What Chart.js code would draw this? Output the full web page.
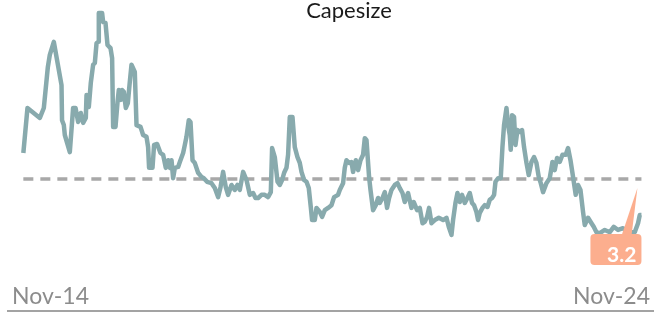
<!DOCTYPE html>
<html>
<head>
<meta charset="utf-8">
<title>Capesize</title>
<script src="https://cdn.jsdelivr.net/npm/chart.js@4.4.1/dist/chart.umd.min.js"></script>
<style>
  html, body { margin: 0; padding: 0; background: #fff; }
  #wrap { width: 660px; height: 313px; position: relative; }
</style>
</head>
<body>
<div id="wrap"><canvas id="capesize"></canvas></div>
<script>
// months since Nov-14
const months = [
  0.1, 0.9, 3.3, 4.07, 4.85, 5.23, 6.01, 7.5, 7.6, 7.95, 8.14, 9.11, 9.75, 10.22, 10.72, 11.24, 11.69, 12.21, 12.35, 12.79,
  13.18, 13.63, 13.96, 14.29, 14.6, 14.73, 15.37, 15.57, 16.03, 16.42, 17.0, 17.31, 17.51, 17.97, 18.36, 18.61, 19.0, 19.25, 19.58, 19.97,
  20.36, 20.74, 21.07, 21.71, 22.04, 22.82, 23.32, 23.98, 24.29, 24.48, 25.14, 25.45, 26.04, 26.69, 27.2, 27.72, 28.17, 28.5, 28.83, 29.14,
  29.47, 30.11, 30.44, 31.08, 31.41, 31.73, 32.18, 32.51, 32.9, 33.34, 33.98, 34.64, 35.09, 35.73, 36.58, 37.22, 37.86, 38.33, 38.83, 39.35,
  39.8, 40.46, 41.1, 41.62, 42.07, 42.71, 43.37, 44.01, 44.65, 45.11, 45.62, 46.27, 46.91, 47.55, 48.08, 48.33, 48.85, 49.38, 49.82, 50.27,
  50.66, 51.12, 51.43, 51.76, 52.28, 52.73, 53.25, 53.7, 54.03, 54.53, 55.0, 55.44, 55.83, 56.08, 56.61, 56.94, 57.58, 58.02, 58.55, 59.19,
  59.84, 60.35, 61.12, 61.45, 62.09, 62.42, 62.75, 63.26, 63.72, 64.03, 64.56, 65.0, 65.47, 65.97, 66.3, 66.63, 67.13, 67.41, 67.91, 68.43,
  68.88, 69.21, 69.73, 70.18, 70.62, 71.01, 71.48, 72.12, 72.64, 73.09, 73.61, 74.05, 74.69, 75.35, 75.8, 76.44, 76.96, 77.49, 77.93, 78.38,
  78.76, 79.23, 79.87, 80.65, 81.48, 82.14, 82.58, 83.11, 83.42, 83.88, 84.27, 84.72, 85.16, 85.69, 86.21, 86.66, 87.1, 87.49, 87.95, 88.27,
  88.6, 89.12, 89.56, 90.09, 90.53, 90.98, 91.37, 91.64, 92.14, 92.66, 92.99, 93.3, 93.77, 94.08, 94.41, 94.6, 94.86, 95.24, 95.52, 95.9,
  96.35, 96.79, 97.18, 97.65, 98.09, 98.61, 99.12, 99.58, 100.03, 100.42, 100.87, 101.52, 102.16, 102.69, 103.13, 103.58, 104.1, 104.63, 105.27, 105.71,
  106.18, 106.68, 107.2, 107.65, 108.12, 108.62, 108.95, 109.59, 110.25, 110.69, 111.22, 111.86, 112.83, 113.8, 114.57, 115.41, 116.37, 117.34, 118.64, 119.28,
  119.61, 119.94,
];

const values = [
  4.60, 5.60, 5.38, 5.60, 6.51, 6.78, 7.07, 6.11, 5.33, 5.22, 5.00, 4.62, 5.60, 5.60, 5.29, 5.49, 5.27, 5.38, 5.89, 5.62,
  6.16, 6.56, 6.60, 7.04, 7.07, 7.71, 7.71, 7.51, 7.49, 7.00, 6.93, 6.71, 5.18, 5.18, 5.73, 6.00, 5.78, 6.00, 5.96, 5.60,
  5.71, 6.18, 6.56, 6.40, 5.22, 5.18, 5.00, 4.96, 4.73, 4.27, 4.27, 4.78, 4.80, 4.60, 4.56, 4.27, 4.44, 4.27, 4.44, 4.04,
  4.27, 4.29, 4.40, 4.60, 4.78, 4.96, 5.33, 5.29, 4.44, 4.38, 4.16, 4.07, 4.04, 3.96, 3.93, 3.82, 3.62, 3.84, 4.18, 3.84,
  3.67, 3.89, 3.78, 3.89, 3.78, 4.18, 4.00, 3.67, 3.71, 3.60, 3.60, 3.67, 3.67, 3.62, 3.73, 4.71, 4.51, 3.96, 3.89, 4.00,
  4.16, 4.27, 4.56, 5.40, 5.40, 4.73, 4.51, 4.38, 4.18, 4.00, 3.96, 3.82, 3.40, 3.11, 3.11, 3.38, 3.29, 3.18, 3.33, 3.38,
  3.44, 3.62, 3.67, 3.78, 3.93, 4.27, 4.44, 4.38, 4.40, 4.18, 4.44, 4.22, 4.44, 4.56, 4.93, 4.89, 4.07, 3.78, 3.33, 3.44,
  3.60, 3.49, 3.60, 3.73, 3.38, 3.60, 3.78, 3.89, 3.93, 3.82, 3.71, 3.51, 3.71, 3.38, 3.51, 3.33, 3.38, 3.04, 3.07, 3.18,
  3.38, 3.04, 3.11, 3.16, 3.11, 3.16, 2.96, 2.78, 3.11, 3.49, 3.71, 3.51, 3.67, 3.49, 3.60, 3.71, 3.49, 3.44, 3.29, 3.11,
  3.27, 3.38, 3.44, 3.40, 3.56, 3.60, 3.67, 3.96, 4.04, 4.04, 4.73, 5.22, 5.60, 5.22, 5.00, 4.67, 5.44, 5.40, 4.78, 5.11,
  5.07, 5.11, 4.73, 4.38, 4.11, 4.40, 4.51, 4.38, 4.07, 3.93, 3.73, 3.93, 4.04, 4.40, 4.22, 4.49, 4.40, 4.56, 4.56, 4.71,
  4.44, 4.07, 3.67, 3.89, 3.78, 3.29, 3.00, 3.16, 3.04, 2.96, 2.84, 2.82, 2.89, 2.84, 2.96, 2.89, 2.93, 2.84, 2.84, 3.04,
  3.22, 3.22,
];

const tickLabels = ["Nov-14", "Nov-24"];
const average = 4.02;
const chartTitle = "Capesize";

const points = months.map((m, i) => ({ x: m, y: values[i] }));
const last = points[points.length - 1];

// title, bottom rule and the last-value callout
const extras = {
  id: "extras",
  afterDraw(chart) {
    const ctx = chart.ctx;
    const area = chart.chartArea;
    ctx.save();

    ctx.fillStyle = "#1a1a1a";
    ctx.font = "22px Lato";
    ctx.textAlign = "center";
    ctx.textBaseline = "alphabetic";
    ctx.fillText(chartTitle, (area.left + area.right) / 2 + 18, 17.5);

    ctx.strokeStyle = "#a3a3a3";
    ctx.lineWidth = 2;
    ctx.beginPath();
    ctx.moveTo(area.left - 5, chart.height - 2);
    ctx.lineTo(area.right + 4, chart.height - 2);
    ctx.stroke();

    const x = chart.scales.x.getPixelForValue(last.x);
    const y = chart.scales.y.getPixelForValue(last.y);
    ctx.fillStyle = "#fcae8e";
    ctx.beginPath();
    ctx.moveTo(x - 20, y + 21);
    ctx.lineTo(x - 4, y - 27);
    ctx.lineTo(x - 10, y + 21);
    ctx.closePath();
    ctx.fill();
    ctx.beginPath();
    ctx.roundRect(x - 51, y + 19, 51, 31, 4);
    ctx.fill();

    ctx.fillStyle = "#ffffff";
    ctx.font = "bold 21px Lato";
    ctx.textAlign = "right";
    ctx.fillText(last.y.toFixed(1), x - 5, y + 47);
    ctx.restore();
  },
};

const ctx = document.getElementById("capesize");

new Chart(ctx, {
  type: "line",
  data: {
    datasets: [
      {
        label: chartTitle,
        data: points,
        borderColor: "#88aaad",
        borderWidth: 4.5,
        pointRadius: 0,
        borderJoinStyle: "round",
        tension: 0,
      },
      {
        label: "Average",
        data: [
          { x: months[0], y: average },
          { x: months[months.length - 1], y: average },
        ],
        borderColor: "#a8a8a8",
        borderWidth: 3.5,
        borderDash: [10, 7],
        pointRadius: 0,
      },
    ],
  },
  options: {
    animation: false,
    responsive: true,
    maintainAspectRatio: false,
    layout: {
      autoPadding: false,
      padding: { left: 12, right: 10, top: 0, bottom: 0 },
    },
    scales: {
      x: {
        type: "linear",
        min: -2.1,
        max: 121.6,
        afterBuildTicks: (scale) => {
          scale.ticks = [{ value: -2.1 }, { value: 121.6 }];
        },
        afterFit: (scale) => {
          scale.height = 30;
        },
        grid: { display: false, drawTicks: false },
        border: { display: false },
        ticks: {
          align: "inner",
          maxRotation: 0,
          padding: 0,
          color: "#8c8c8c",
          font: { family: "Lato", size: 23 },
          callback: (value, index) => tickLabels[index],
        },
      },
      y: {
        display: false,
        min: 1.711,
        max: 8,
      },
    },
    plugins: {
      legend: { display: false },
      tooltip: { enabled: false },
    },
  },
  plugins: [extras],
});
</script>
</body>
</html>
